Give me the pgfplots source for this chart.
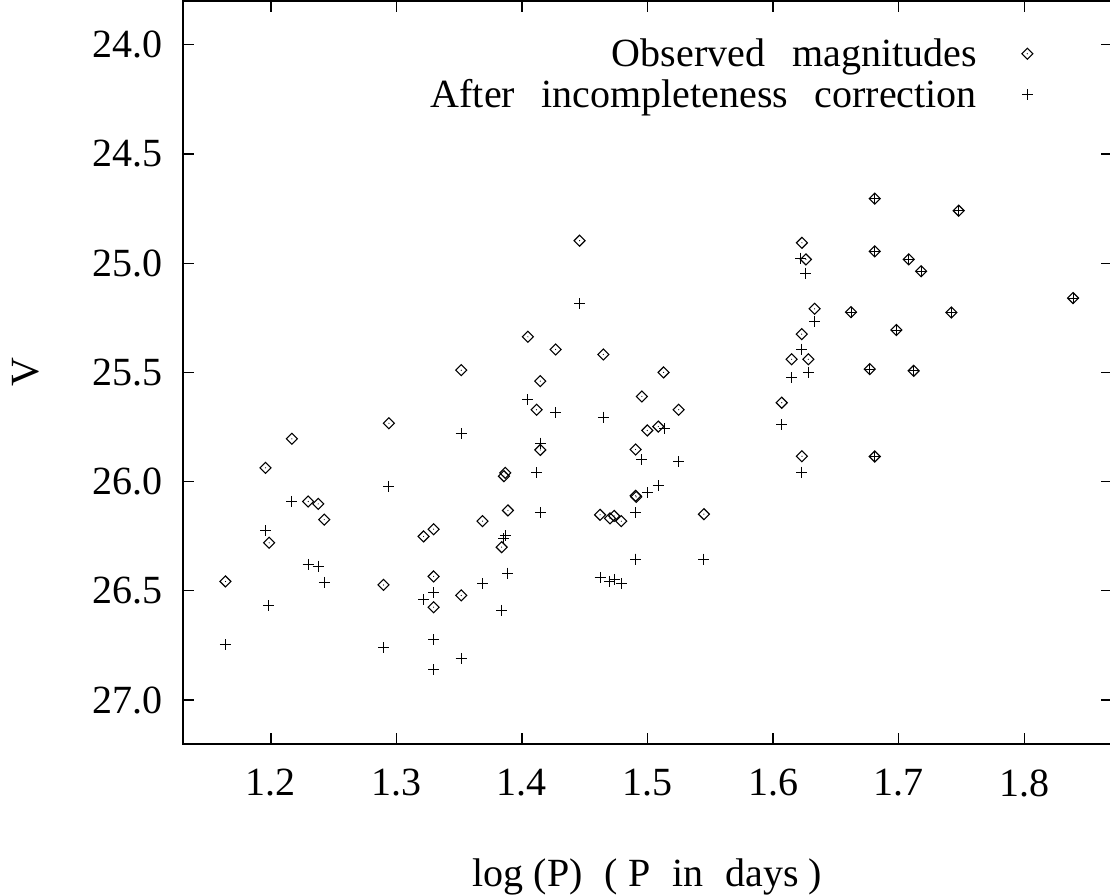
\documentclass[border=0pt]{standalone}
\usepackage{fontspec}
\setmainfont{Liberation Serif}
\usepackage{pgfplots}
\usepackage{pgfplotstable}
\pgfplotsset{compat=1.18}

\pgfdeclareplotmark{gdiamond}{%
  \pgfpathmoveto{\pgfqpoint{0pt}{\pgfplotmarksize}}%
  \pgfpathlineto{\pgfqpoint{\pgfplotmarksize}{0pt}}%
  \pgfpathlineto{\pgfqpoint{0pt}{-\pgfplotmarksize}}%
  \pgfpathlineto{\pgfqpoint{-\pgfplotmarksize}{0pt}}%
  \pgfpathclose
  \pgfusepathqstroke
  \pgfpathcircle{\pgfpointorigin}{0.3pt}%
  \pgfusepathqfill
}

\pgfplotstableread{
x y
1.1638 26.457
1.1957 25.937
1.1986 26.280
1.2167 25.804
1.2297 26.091
1.2377 26.102
1.2425 26.174
1.2897 26.473
1.2940 25.733
1.3216 26.251
1.3296 26.218
1.3296 26.434
1.3296 26.575
1.3516 25.490
1.3516 26.521
1.3686 26.181
1.3838 26.300
1.3856 25.975
1.3867 25.960
1.3888 26.132
1.4047 25.337
1.4116 25.671
1.4146 25.540
1.4146 25.855
1.4268 25.395
1.4459 24.897
1.4622 26.152
1.4648 25.418
1.4701 26.168
1.4734 26.157
1.4791 26.181
1.4905 25.853
1.4905 26.065
1.4910 26.070
1.4955 25.610
1.4998 25.766
1.5086 25.748
1.5128 25.500
1.5248 25.671
1.5449 26.149
1.6069 25.639
1.6148 25.440
1.6228 25.325
1.6230 24.907
1.6230 25.884
1.6262 24.983
1.6281 25.440
1.6331 25.209
1.6621 25.224
1.6770 25.485
1.6810 24.705
1.6810 24.946
1.6810 25.885
1.6982 25.306
1.7081 24.983
1.7120 25.493
1.7179 25.037
1.7420 25.226
1.7479 24.760
1.8390 25.160
}\obs

\pgfplotstableread{
x y
1.1638 26.747
1.1957 26.225
1.1983 26.569
1.2167 26.091
1.2297 26.379
1.2377 26.387
1.2425 26.461
1.2897 26.761
1.2937 26.022
1.3216 26.540
1.3296 26.508
1.3296 26.723
1.3296 26.862
1.3516 25.781
1.3516 26.809
1.3686 26.468
1.3838 26.589
1.3856 26.262
1.3867 26.247
1.3888 26.419
1.4047 25.625
1.4116 25.960
1.4146 25.824
1.4146 26.143
1.4268 25.684
1.4459 25.186
1.4622 26.439
1.4648 25.705
1.4701 26.457
1.4734 26.447
1.4791 26.467
1.4905 26.143
1.4905 26.355
1.4908 26.355
1.4955 25.900
1.4998 26.051
1.5086 26.018
1.5134 25.758
1.5248 25.909
1.5449 26.355
1.6069 25.739
1.6148 25.525
1.6220 24.977
1.6228 25.394
1.6230 25.957
1.6262 25.046
1.6281 25.499
1.6331 25.267
1.6621 25.224
1.6770 25.485
1.6810 24.705
1.6810 24.946
1.6810 25.885
1.6982 25.306
1.7081 24.983
1.7120 25.493
1.7179 25.037
1.7420 25.226
1.7479 24.760
1.8390 25.160
}\corr

\begin{document}
\begin{tikzpicture}
\begin{axis}[
  scale only axis, width=464.4pt, height=371.3pt,
  xmin=1.13, xmax=1.87, ymin=23.8, ymax=27.2, y dir=reverse,
  xtick={1.2,1.3,1.4,1.5,1.6,1.7,1.8},
  ytick={24,24.5,25,25.5,26,26.5,27},
  minor tick num=0,
  tick align=inside,
  major tick length=5.35pt,
  axis line style={line width=0.75pt},
  every tick/.style={black, line width=0.6pt},
  /pgf/number format/assume math mode=true,
  x tick label style={/pgf/number format/.cd, fixed, fixed zerofill, precision=1, /tikz/.cd, yshift=-9.3pt},
  y tick label style={/pgf/number format/.cd, fixed, fixed zerofill, precision=1, /tikz/.cd, xshift=-6.5pt},
  tick label style={font=\fontsize{20}{24}\selectfont},
  xlabel={log (P)\hspace{11pt}(\hspace{5pt}P\hspace{11pt}in\hspace{11pt}days\hspace{5pt})},
  ylabel={V},
  xlabel style={at={(axis description cs:0.5,-0.1927)}, anchor=base, font=\fontsize{20}{24}\selectfont},
  ylabel style={at={(axis description cs:-0.169,0.5)}, anchor=center, font=\fontsize{20}{24}\selectfont},
  legend cell align=right,
  legend plot pos=right,
  legend image code/.code={\draw[#1] plot coordinates {(0pt,0pt)};},
  legend style={draw=none, fill=none, inner sep=0pt, outer sep=0pt,
    font=\fontsize{20}{24}\selectfont,
    at={(axis cs:1.8069,23.971)}, anchor=north east,
    row sep=5pt, column sep=22.5pt,
    nodes={inner sep=0pt}},
]
\addplot[only marks, mark=gdiamond, mark size=2.75pt, mark options={line width=0.55pt}] table {\obs};
\addlegendentry{Observed\hspace{0.68em}magnitudes}
\addplot[only marks, mark=+, mark size=2.75pt, mark options={line width=0.5pt}] table {\corr};
\addlegendentry{After\hspace{0.66em}incompleteness\hspace{0.66em}correction}
\end{axis}
\pgfresetboundingbox
\path[use as bounding box] ([xshift=-91.5pt,yshift=-75.5pt]current axis.south west) rectangle ([xshift=-1pt,yshift=0.5pt]current axis.north east);
\end{tikzpicture}
\end{document}
